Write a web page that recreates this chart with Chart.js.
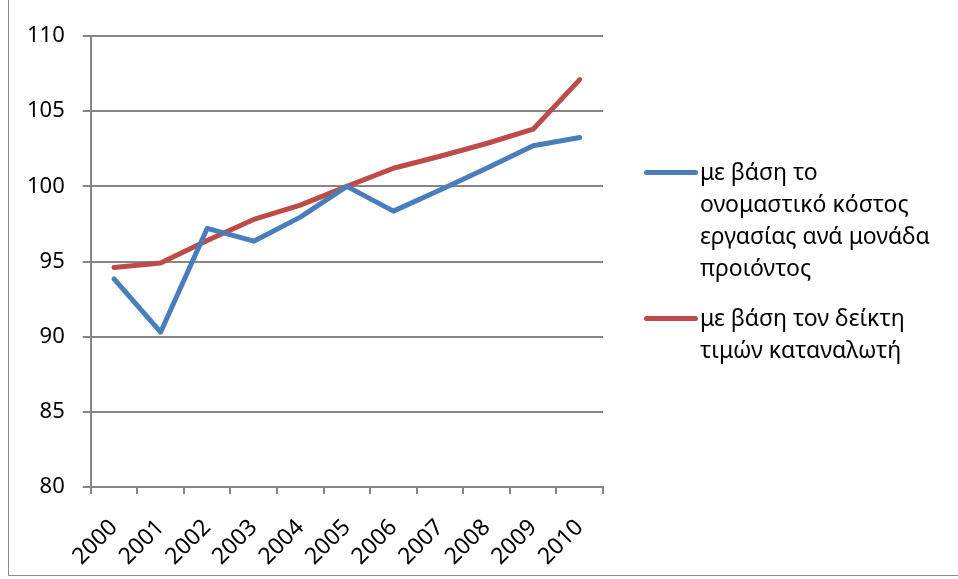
<!DOCTYPE html>
<html>
<head>
<meta charset="utf-8">
<script src="https://cdn.jsdelivr.net/npm/chart.js@4.4.0/dist/chart.umd.min.js"></script>
<style>
  html, body { margin: 0; padding: 0; background: #fff; }
  #wrap { position: relative; width: 958px; height: 579px; overflow: hidden; }
  #frame { position: absolute; left: 8px; top: -2px; width: 960px; height: 578px; border: 1px solid #8c8c8c; box-sizing: border-box; }
  #myChart { position: absolute; left: 0; top: 0; }
  #legend { position: absolute; left: 644px; top: 155px; font-family: "Noto Sans", sans-serif; font-size: 23px; color: #000; }
  .item { position: relative; padding-left: 56px; line-height: 32px; margin-bottom: 18px; }
  .item .swatch { position: absolute; left: 0; top: 15px; width: 54px; height: 5px; border-radius: 3px; }
</style>
</head>
<body>
<div id="wrap">
  <div id="frame"></div>
  <canvas id="myChart" width="958" height="579"></canvas>
  <div id="legend"></div>
</div>
<script>
const years = ['2000', '2001', '2002', '2003', '2004', '2005', '2006', '2007', '2008', '2009', '2010']
const labourCost = [93.85, 90.3, 97.2, 96.35, 97.95, 100.0, 98.35, 99.75, 101.2, 102.7, 103.25]
const consumerPrices = [94.6, 94.9, 96.4, 97.8, 98.75, 100.0, 101.2, 102.0, 102.85, 103.8, 107.1]
const seriesNames = [
  ['με βάση το', 'ονομαστικό κόστος', 'εργασίας ανά μονάδα', 'προιόντος'],
  ['με βάση τον δείκτη', 'τιμών καταναλωτή']
]
const seriesColors = ['#4a7ebb', '#be4b48']
const yTicks = [80, 85, 90, 95, 100, 105, 110]

const gridColor = '#868686'
const yFont = { family: '"Noto Sans", sans-serif', size: 22 }
const xFont = { family: '"Noto Sans", sans-serif', size: 23 }

let ctx = document.getElementById('myChart').getContext('2d')
let chart = new Chart(ctx, {
  type: 'line',
  data: {
    labels: years,
    datasets: [labourCost, consumerPrices].map((d, i) => ({
      label: seriesNames[i].join(' '),
      data: d,
      borderColor: seriesColors[i],
      backgroundColor: seriesColors[i],
      borderWidth: 5,
      pointRadius: 0,
      tension: 0,
      borderCapStyle: 'round',
      borderJoinStyle: 'round'
    }))
  },
  options: {
    responsive: false,
    animation: false,
    layout: { padding: { left: 9, top: 36, right: 355, bottom: 0 } },
    plugins: { legend: { display: false }, tooltip: { enabled: false } },
    scales: {
      x: {
        offset: true,
        afterFit: axis => { axis.height = 92 },
        grid: { drawOnChartArea: false, drawTicks: true, tickLength: 7, color: gridColor, lineWidth: 2, offset: true },
        border: { color: gridColor, width: 2 },
        ticks: { font: xFont, color: '#000', minRotation: 45, maxRotation: 45, padding: 20 }
      },
      y: {
        min: 80,
        max: 110,
        afterBuildTicks: axis => { axis.ticks = yTicks.map(v => ({ value: v })) },
        grid: { color: gridColor, lineWidth: 2, tickLength: 8 },
        border: { color: gridColor, width: 2 },
        ticks: { font: yFont, color: '#000', padding: 18 }
      }
    }
  }
})

// legend with wrapped lines, built from the series names
const legend = document.getElementById('legend')
seriesNames.forEach((lines, i) => {
  const item = document.createElement('div')
  item.className = 'item'
  item.innerHTML = '<span class="swatch" style="background:' + seriesColors[i] + '"></span>' + lines.join('<br>')
  legend.appendChild(item)
})
</script>
</body>
</html>
